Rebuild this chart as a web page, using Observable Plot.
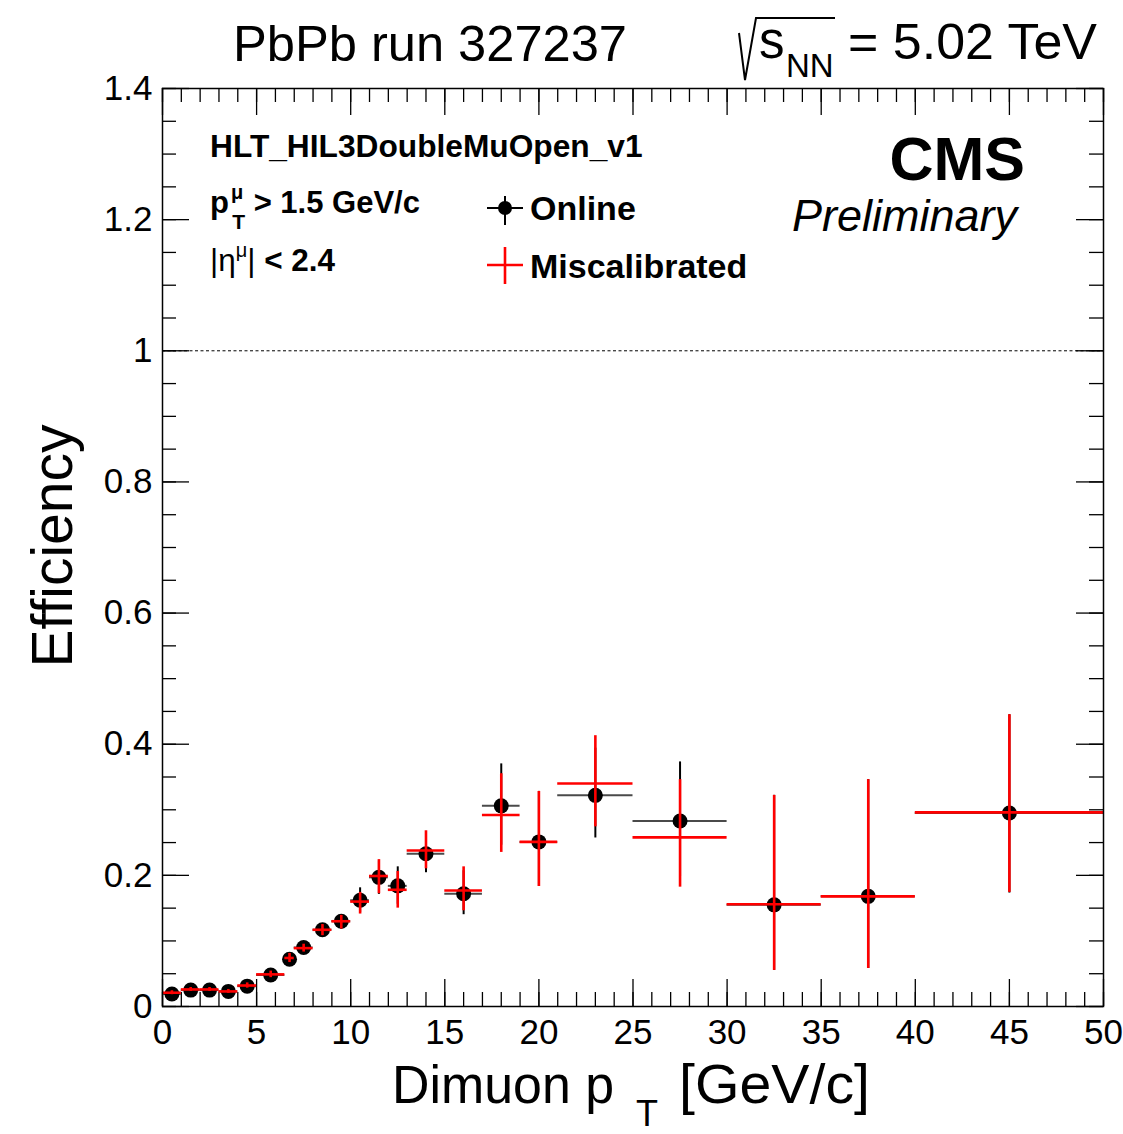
<!DOCTYPE html>
<html>
<head>
<meta charset="utf-8">
<script src="https://cdn.jsdelivr.net/npm/d3@7"></script>
<script src="https://cdn.jsdelivr.net/npm/@observablehq/plot@0.6"></script>
<style>
  body { margin: 0; background: #fff; }
  #chart { position: relative; width: 1123px; height: 1134px; }
  #chart svg text { font-family: "Liberation Sans", Arial, Helvetica, sans-serif; }
</style>
</head>
<body>
<div id="chart"></div>
<script>
// Dimuon pT bins (GeV/c)
const binLow  = [0, 1, 2, 3, 4, 5, 6.5, 7, 8, 9, 10, 11, 12, 13, 15, 17, 19, 21, 25, 30, 35, 40];
const binHigh = [1, 2, 3, 4, 5, 6.5, 7, 8, 9, 10, 11, 12, 13, 15, 17, 19, 21, 25, 30, 35, 40, 50];

// Online trigger efficiency with asymmetric errors
const onlineEff     = [0.019, 0.025, 0.025, 0.023, 0.031, 0.048, 0.072, 0.090, 0.117, 0.130, 0.162, 0.197, 0.184, 0.233, 0.172, 0.306, 0.251, 0.322, 0.283, 0.155, 0.168, 0.295];
const onlineErrLow  = [0.003, 0.003, 0.003, 0.003, 0.004, 0.005, 0.007, 0.006, 0.009, 0.012, 0.019, 0.026, 0.028, 0.029, 0.032, 0.060, 0.068, 0.065, 0.085, 0.100, 0.110, 0.122];
const onlineErrHigh = [0.003, 0.003, 0.003, 0.003, 0.004, 0.005, 0.007, 0.006, 0.008, 0.009, 0.019, 0.025, 0.029, 0.029, 0.035, 0.064, 0.077, 0.072, 0.090, 0.167, 0.178, 0.150];

// Miscalibrated efficiency with asymmetric errors
const miscalEff     = [0.021, 0.026, 0.026, 0.023, 0.032, 0.049, 0.074, 0.089, 0.117, 0.130, 0.160, 0.199, 0.178, 0.238, 0.177, 0.292, 0.251, 0.340, 0.258, 0.156, 0.168, 0.296];
const miscalErrLow  = [0.003, 0.003, 0.003, 0.003, 0.004, 0.005, 0.007, 0.006, 0.009, 0.012, 0.019, 0.027, 0.028, 0.028, 0.031, 0.057, 0.068, 0.066, 0.076, 0.101, 0.110, 0.122];
const miscalErrHigh = [0.003, 0.003, 0.003, 0.003, 0.004, 0.005, 0.007, 0.006, 0.008, 0.009, 0.014, 0.025, 0.028, 0.030, 0.036, 0.063, 0.077, 0.073, 0.088, 0.166, 0.178, 0.149];

// Axis ticks
const xMajorTicks = [0, 5, 10, 15, 20, 25, 30, 35, 40, 45, 50];
const xMinorTicks = d3.range(0, 51, 1);
const yMajorTicks = [0, 0.2, 0.4, 0.6, 0.8, 1, 1.2, 1.4];
const yMinorTicks = d3.range(0, 1.4001, 0.05);
const unityLine = [1];

const online = binLow.map((lo, i) => ({
  lo, hi: binHigh[i], xc: (lo + binHigh[i]) / 2,
  eff: onlineEff[i], down: onlineEff[i] - onlineErrLow[i], up: onlineEff[i] + onlineErrHigh[i]
}));
const miscal = binLow.map((lo, i) => ({
  lo, hi: binHigh[i], xc: (lo + binHigh[i]) / 2,
  eff: miscalEff[i], down: miscalEff[i] - miscalErrLow[i], up: miscalEff[i] + miscalErrHigh[i]
}));

const W = 1123, H = 1134;
const mL = 162, mR = 20, mT = 88, mB = 128;
const frameW = W - mL - mR, frameH = H - mT - mB;
const majorLen = 27, minorLen = 14;

const plot = Plot.plot({
  width: W, height: H,
  marginLeft: mL, marginRight: mR, marginTop: mT, marginBottom: mB,
  style: { fontFamily: "Liberation Sans, Arial, sans-serif", fontSize: "35px", color: "black", background: "white" },
  x: { domain: [0, 50], label: null },
  y: { domain: [0, 1.4], label: null },
  marks: [
    // reference line at efficiency = 1
    Plot.ruleY(unityLine, { stroke: "black", strokeWidth: 1, strokeDasharray: "3,2.5" }),

    // inward ticks on all four sides
    Plot.tickX(xMinorTicks, { x: d => d, insetTop: frameH - minorLen, strokeWidth: 1.3 }),
    Plot.tickX(xMajorTicks, { x: d => d, insetTop: frameH - majorLen, strokeWidth: 1.3 }),
    Plot.tickX(xMinorTicks, { x: d => d, insetBottom: frameH - minorLen, strokeWidth: 1.3 }),
    Plot.tickX(xMajorTicks, { x: d => d, insetBottom: frameH - majorLen, strokeWidth: 1.3 }),
    Plot.tickY(yMinorTicks, { y: d => d, insetRight: frameW - minorLen, strokeWidth: 1.3 }),
    Plot.tickY(yMajorTicks, { y: d => d, insetRight: frameW - majorLen, strokeWidth: 1.3 }),
    Plot.tickY(yMinorTicks, { y: d => d, insetLeft: frameW - minorLen, strokeWidth: 1.3 }),
    Plot.tickY(yMajorTicks, { y: d => d, insetLeft: frameW - majorLen, strokeWidth: 1.3 }),

    // tick labels
    Plot.axisX(xMajorTicks, { anchor: "bottom", tickSize: 0, tickPadding: 13, fontSize: 35, tickFormat: d => String(d), label: null }),
    Plot.axisY(yMajorTicks, { anchor: "left", tickSize: 0, tickPadding: 10, fontSize: 35, tickFormat: d => String(d), label: null }),

    // Online: bin-width bars, error bars, markers
    Plot.ruleY(online, { y: "eff", x1: "lo", x2: "hi", stroke: "#4a4a4a", strokeWidth: 2 }),
    Plot.ruleX(online, { x: "xc", y1: "down", y2: "up", stroke: "black", strokeWidth: 2 }),
    Plot.dot(online, { x: "xc", y: "eff", r: 7.5, fill: "black", stroke: "none" }),

    // Miscalibrated: red crosses
    Plot.ruleY(miscal, { y: "eff", x1: "lo", x2: "hi", stroke: "#ff0000", strokeWidth: 2.6 }),
    Plot.ruleX(miscal, { x: "xc", y1: "down", y2: "up", stroke: "#ff0000", strokeWidth: 2.6 }),

    Plot.frame({ stroke: "black", strokeWidth: 1.5 })
  ]
});

document.getElementById("chart").appendChild(plot);

// Text annotations drawn into the same SVG
const svg = d3.select(plot);
const g = svg.append("g").attr("fill", "black");

function label(x, y, parts, opts = {}) {
  const t = g.append("text").attr("x", x).attr("y", y)
    .attr("font-size", opts.size || 32)
    .attr("font-weight", opts.weight || "normal")
    .attr("font-style", opts.style || "normal")
    .attr("text-anchor", opts.anchor || "start");
  if (opts.rotate) t.attr("transform", `rotate(${opts.rotate},${x},${y})`);
  if (opts.length) t.attr("textLength", opts.length).attr("lengthAdjust", "spacingAndGlyphs");
  for (const p of parts) {
    const s = t.append("tspan").text(p.text);
    if (p.size) s.attr("font-size", p.size);
    if (p.dx) s.attr("dx", p.dx);
    if (p.dy) s.attr("dy", p.dy);
    if (p.weight) s.attr("font-weight", p.weight);
  }
  return t;
}

// Header
label(233, 61, [{ text: "PbPb run 327237" }], { size: 50, length: 394 });
g.append("path")
  .attr("d", "M739,33 L745,80 L756,18 L835,18")
  .attr("fill", "none").attr("stroke", "black").attr("stroke-width", 2);
label(759, 58, [{ text: "s" }], { size: 51 });
label(786, 77, [{ text: "NN" }], { size: 33 });
label(848, 59, [{ text: "= 5.02 TeV" }], { size: 50, length: 249 });

// Experiment label
label(1025, 180, [{ text: "CMS" }], { size: 61, weight: "bold", anchor: "end" });
label(1017, 231, [{ text: "Preliminary" }], { size: 45, style: "italic", anchor: "end" });

// Selection text
label(210, 157, [{ text: "HLT_HIL3DoubleMuOpen_v1" }], { size: 31.7, weight: "bold" });
label(210, 213, [
  { text: "p" },
  { text: "μ", size: 20, dy: -14, dx: 2 },
  { text: "T", size: 21, dy: 30, dx: -11 },
  { text: " > 1.5 GeV/c", size: 31, dy: -16, dx: 0 }
], { size: 31, weight: "bold" });
label(210, 271, [
  { text: "|η", weight: "normal" },
  { text: "μ", size: 20, dy: -14, weight: "normal" },
  { text: "|", dy: 14, weight: "normal" },
  { text: " < 2.4" }
], { size: 31.5, weight: "bold" });

// Legend
const legX = 505;
g.append("line").attr("x1", legX - 18).attr("x2", legX + 18).attr("y1", 208).attr("y2", 208).attr("stroke", "black").attr("stroke-width", 2);
g.append("line").attr("x1", legX).attr("x2", legX).attr("y1", 196).attr("y2", 225).attr("stroke", "black").attr("stroke-width", 2);
g.append("circle").attr("cx", legX).attr("cy", 208).attr("r", 7).attr("fill", "black");
g.append("line").attr("x1", legX - 18).attr("x2", legX + 18).attr("y1", 265).attr("y2", 265).attr("stroke", "#ff0000").attr("stroke-width", 2.6);
g.append("line").attr("x1", legX).attr("x2", legX).attr("y1", 247).attr("y2", 284).attr("stroke", "#ff0000").attr("stroke-width", 2.6);
label(530, 220, [{ text: "Online" }], { size: 34, weight: "bold" });
label(530, 278, [{ text: "Miscalibrated" }], { size: 34, weight: "bold" });

// Axis titles
label(392, 1103, [{ text: "Dimuon p" }], { size: 53, length: 222 });
label(636, 1126, [{ text: "T" }], { size: 36 });
label(679, 1103, [{ text: "[GeV/c]" }], { size: 55, length: 191 });
label(72, 546, [{ text: "Efficiency" }], { size: 57, anchor: "middle", rotate: -90 });
</script>
</body>
</html>
